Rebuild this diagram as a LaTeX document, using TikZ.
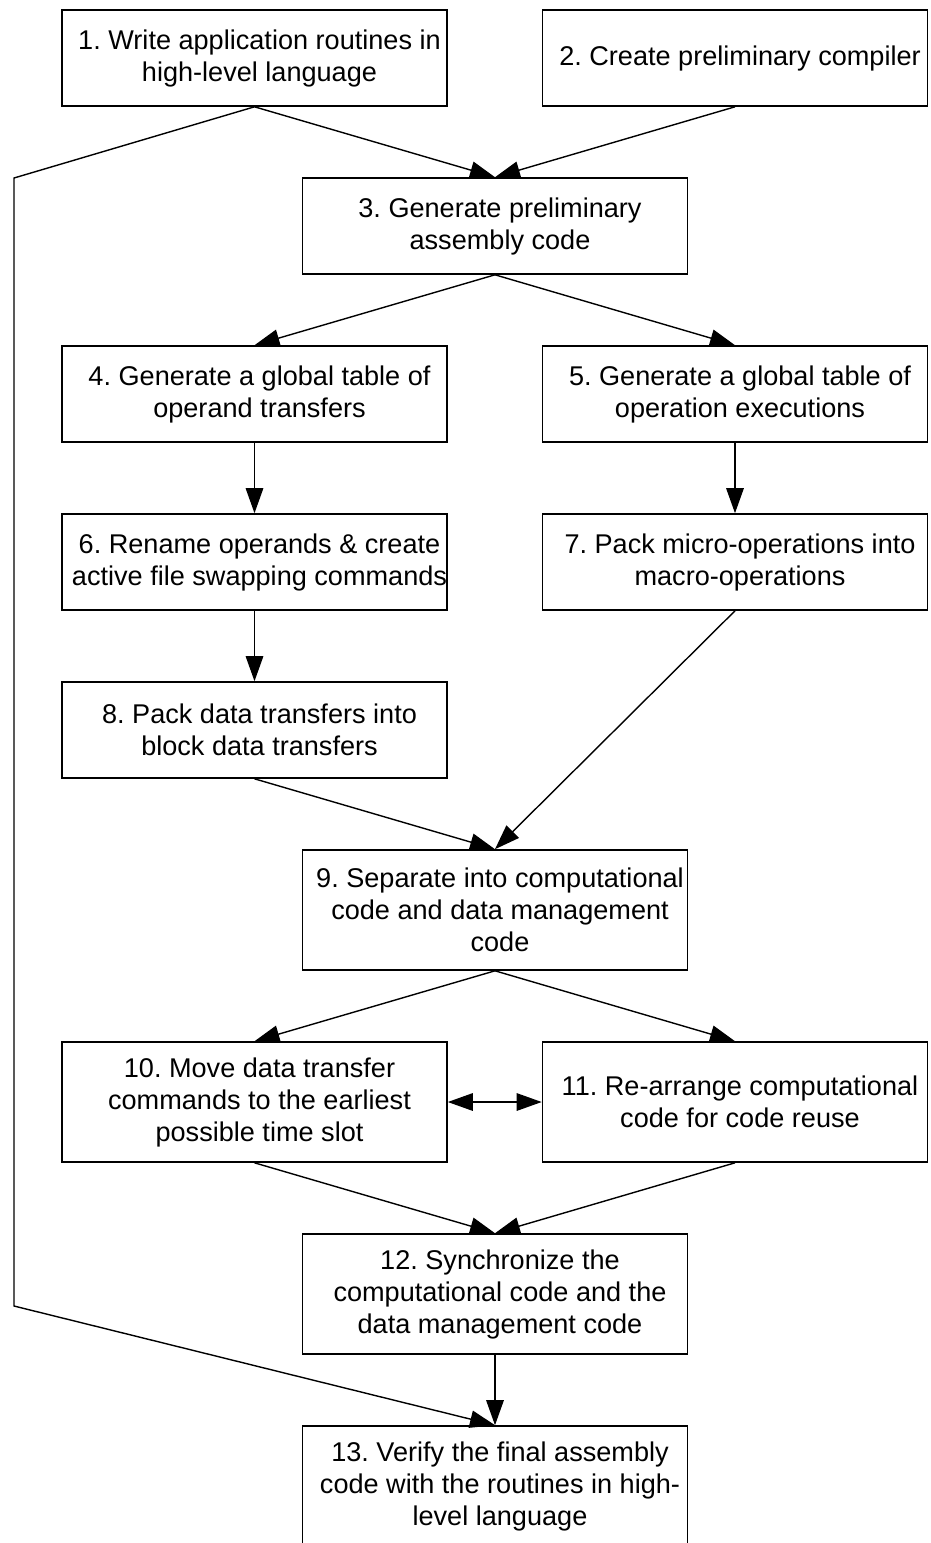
\documentclass[tikz,border=0pt]{standalone}
\usepackage{fontspec}
\setmainfont{Liberation Sans}
\usetikzlibrary{arrows.meta}
\frenchspacing
\begin{document}
\begin{tikzpicture}[x=1pt,y=-1pt,
  stepbox/.style={draw=black, line width=1.6pt, rectangle, minimum width=385pt, inner sep=0pt},
  short/.style={stepbox, minimum height=96pt},
  tall/.style={stepbox, minimum height=120pt},
  steptext/.style={align=center, inner sep=0pt, xshift=5pt, font=\fontsize{27.1}{32}\selectfont},
  flow/.style={line width=1.4pt, -{Triangle[length=25pt,width=17.5pt]}},
  both/.style={line width=1.4pt, {Triangle[length=25pt,width=17.5pt]}-{Triangle[length=25pt,width=17.5pt]}}]
\useasboundingbox (0,0) rectangle (930,1543);

% boxes
\node[short] (b1) at (254.5,58) {};
\node[short] (b2) at (735,58) {};
\node[short] (b3) at (495,226) {};
\node[short] (b4) at (254.5,394) {};
\node[short] (b5) at (735,394) {};
\node[short] (b6) at (254.5,562) {};
\node[short] (b7) at (735,562) {};
\node[short] (b8) at (254.5,730) {};
\node[tall] (b9) at (495,910) {};
\node[tall] (b10) at (254.5,1102) {};
\node[tall] (b11) at (735,1102) {};
\node[tall] (b12) at (495,1294) {};
\node[tall] (b13) at (495,1486) {};

% texts
\node[steptext] (t1) at (b1) {1. Write application routines in\\high-level language};
\node[steptext] (t2) at (b2) {2. Create preliminary compiler};
\node[steptext] (t3) at (b3) {3. Generate preliminary\\assembly code};
\node[steptext] (t4) at (b4) {4. Generate a global table of\\operand transfers};
\node[steptext] (t5) at (b5) {5. Generate a global table of\\operation executions};
\node[steptext] (t6) at (b6) {6. Rename operands \& create\\active file swapping commands};
\node[steptext] (t7) at (b7) {7. Pack micro-operations into\\macro-operations};
\node[steptext] (t8) at (b8) {8. Pack data transfers into\\block data transfers};
\node[steptext] (t9) at (b9) {9. Separate into computational\\code and data management\\code};
\node[steptext] (t10) at (b10) {10. Move data transfer\\commands to the earliest\\possible time slot};
\node[steptext] (t11) at (b11) {11. Re-arrange computational\\code for code reuse};
\node[steptext] (t12) at (b12) {12. Synchronize the\\computational code and the\\data management code};
\node[steptext] (t13) at (b13) {13. Verify the final assembly\\code with the routines in high-\\level language};

% bend points of the long left-hand connector
\coordinate (c1) at (14,178);
\coordinate (c2) at (14,1306);

% connectors
\draw[flow] (b1.south) -- (b3.north);
\draw[flow] (b2.south) -- (b3.north);
\draw[flow] (b3.south) -- (b4.north);
\draw[flow] (b3.south) -- (b5.north);
\draw[flow] (b4.south) -- (b6.north);
\draw[flow] (b5.south) -- (b7.north);
\draw[flow] (b6.south) -- (b8.north);
\draw[flow] (b8.south) -- (b9.north);
\draw[flow] (b7.south) -- (b9.north);
\draw[flow] (b9.south) -- (b10.north);
\draw[flow] (b9.south) -- (b11.north);
\draw[both] (b10.east) -- (b11.west);
\draw[flow] (b10.south) -- (b12.north);
\draw[flow] (b11.south) -- (b12.north);
\draw[flow] (b12.south) -- (b13.north);
\draw[flow, line join=miter] (b1.south) -- (c1) -- (c2) -- (b13.north);
\end{tikzpicture}
\end{document}
